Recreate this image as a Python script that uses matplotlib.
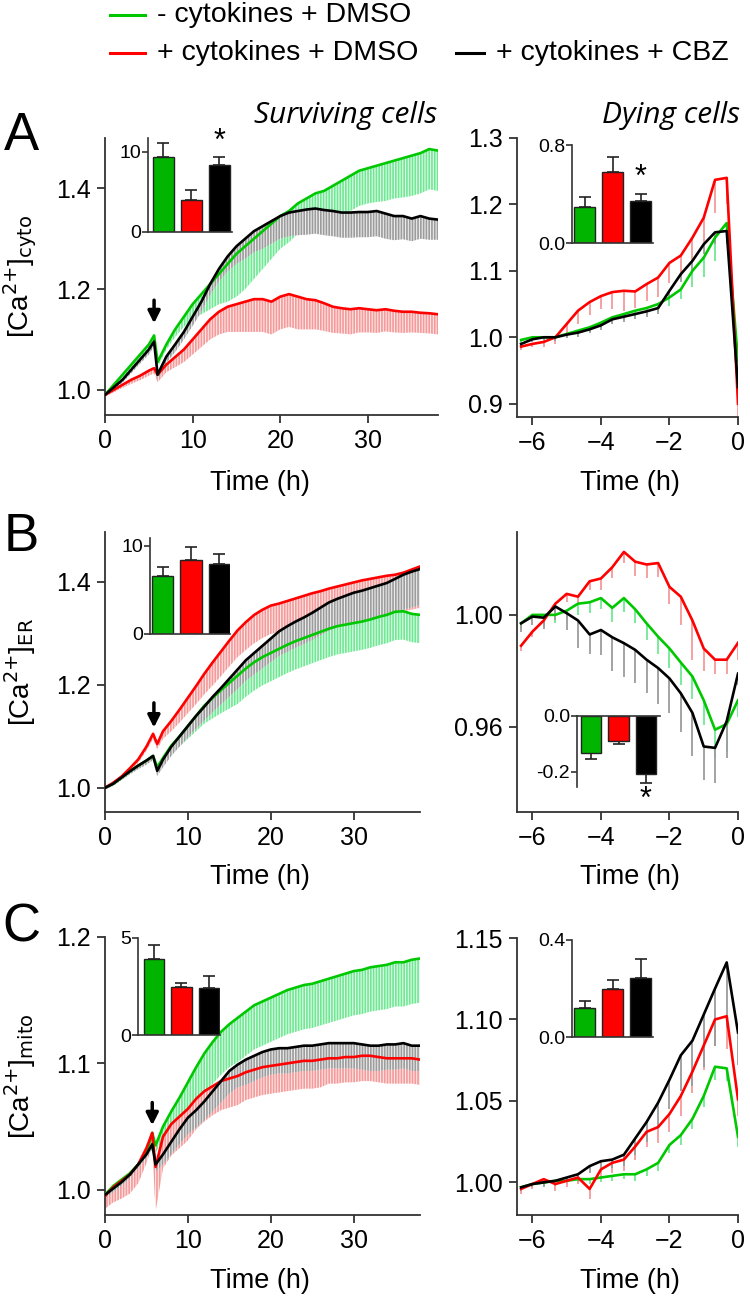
import numpy as np
import matplotlib
matplotlib.use('Agg')
import matplotlib.pyplot as plt
from matplotlib.lines import Line2D

plt.rcParams['font.family'] = ['Liberation Sans', 'DejaVu Sans']
plt.rcParams['mathtext.default'] = 'regular'
plt.rcParams['hatch.linewidth'] = 1.2

# ---------------- data ----------------
# left column: surviving cells, time in h
tA = [0, 1, 2, 3, 4, 5, 5.6, 6] + list(range(7, 39))
cytoSurvGreen = [0.99, 1.01, 1.03, 1.05, 1.07, 1.09, 1.108, 1.055,
                 1.09, 1.12, 1.145, 1.17, 1.19, 1.21, 1.23, 1.25, 1.27, 1.285,
                 1.30, 1.315, 1.33, 1.345, 1.355, 1.37, 1.38, 1.39, 1.395, 1.405,
                 1.415, 1.425, 1.435, 1.44, 1.445, 1.45, 1.455, 1.46, 1.465, 1.47,
                 1.478, 1.475]
cytoSurvGreenErr = [0.004, 0.005, 0.006, 0.007, 0.008, 0.009, 0.01, 0.01,
                    0.01, 0.015, 0.02, 0.03, 0.04, 0.05, 0.06, 0.075, 0.085, 0.085,
                    0.08, 0.075, 0.07, 0.065, 0.062, 0.06, 0.06, 0.062, 0.065, 0.065,
                    0.068, 0.07, 0.07, 0.07, 0.072, 0.075, 0.075, 0.078, 0.08, 0.08,
                    0.08, 0.08]
cytoSurvRed = [0.99, 1.0, 1.01, 1.02, 1.028, 1.038, 1.043, 1.03,
               1.05, 1.065, 1.08, 1.10, 1.12, 1.14, 1.155, 1.165, 1.17, 1.175,
               1.18, 1.18, 1.175, 1.185, 1.19, 1.185, 1.18, 1.178, 1.172, 1.165,
               1.162, 1.16, 1.162, 1.16, 1.158, 1.16, 1.157, 1.155, 1.155, 1.153,
               1.152, 1.15]
cytoSurvRedErr = [0.004, 0.005, 0.006, 0.008, 0.009, 0.01, 0.01, 0.015,
                  0.015, 0.02, 0.025, 0.03, 0.035, 0.04, 0.045, 0.05, 0.055, 0.06,
                  0.065, 0.065, 0.065, 0.065, 0.065, 0.065, 0.06, 0.058, 0.055, 0.052,
                  0.05, 0.05, 0.048, 0.046, 0.045, 0.044, 0.043, 0.042, 0.041, 0.04,
                  0.04, 0.04]
cytoSurvBlack = [0.99, 1.005, 1.02, 1.04, 1.06, 1.08, 1.096, 1.03,
                 1.066, 1.09, 1.115, 1.145, 1.175, 1.21, 1.24, 1.265, 1.285, 1.30,
                 1.315, 1.325, 1.335, 1.345, 1.352, 1.355, 1.358, 1.36, 1.357, 1.355,
                 1.352, 1.352, 1.353, 1.353, 1.355, 1.35, 1.345, 1.345, 1.34, 1.345,
                 1.34, 1.338]
cytoSurvBlackErr = [0.004, 0.005, 0.006, 0.007, 0.008, 0.01, 0.01, 0.012,
                    0.012, 0.015, 0.015, 0.018, 0.02, 0.022, 0.025, 0.03, 0.035, 0.04,
                    0.042, 0.045, 0.045, 0.045, 0.047, 0.048, 0.05, 0.05, 0.05, 0.05,
                    0.05, 0.05, 0.05, 0.05, 0.05, 0.05, 0.048, 0.046, 0.045, 0.045,
                    0.042, 0.04]

tB = [0, 1, 2, 3, 4, 5, 5.8, 6.3] + list(range(7, 39))
erSurvGreen = [1.0, 1.008, 1.02, 1.032, 1.043, 1.053, 1.062, 1.04,
               1.058, 1.082, 1.10, 1.12, 1.14, 1.16, 1.175, 1.19, 1.204, 1.218,
               1.232, 1.244, 1.254, 1.262, 1.27, 1.278, 1.285, 1.291, 1.297, 1.303,
               1.309, 1.314, 1.317, 1.32, 1.323, 1.327, 1.332, 1.336, 1.342, 1.343,
               1.338, 1.336]
erSurvGreenErr = [0.003, 0.004, 0.005, 0.005, 0.006, 0.006, 0.006, 0.008,
                  0.01, 0.015, 0.02, 0.025, 0.03, 0.035, 0.04, 0.045, 0.05, 0.055,
                  0.055, 0.055, 0.055, 0.055, 0.055, 0.055, 0.055, 0.055, 0.055, 0.055,
                  0.055, 0.055, 0.055, 0.055, 0.055, 0.055, 0.055, 0.055, 0.055, 0.055,
                  0.055, 0.055]
erSurvRed = [1.0, 1.01, 1.022, 1.038, 1.055, 1.08, 1.105, 1.085,
             1.11, 1.13, 1.152, 1.175, 1.198, 1.222, 1.244, 1.265, 1.286, 1.306,
             1.322, 1.336, 1.346, 1.354, 1.358, 1.363, 1.368, 1.373, 1.378, 1.382,
             1.387, 1.391, 1.395, 1.399, 1.403, 1.406, 1.409, 1.412, 1.414, 1.418,
             1.424, 1.43]
erSurvRedErr = [0.003, 0.004, 0.005, 0.006, 0.007, 0.008, 0.01, 0.01,
                0.015, 0.02, 0.025, 0.03, 0.035, 0.04, 0.045, 0.048, 0.05, 0.052,
                0.054, 0.055, 0.055, 0.055, 0.055, 0.056, 0.057, 0.058, 0.059, 0.06,
                0.061, 0.062, 0.063, 0.064, 0.065, 0.067, 0.069, 0.071, 0.073, 0.075,
                0.078, 0.08]
erSurvBlack = [1.0, 1.008, 1.02, 1.032, 1.043, 1.053, 1.062, 1.033,
               1.055, 1.08, 1.10, 1.12, 1.14, 1.158, 1.177, 1.194, 1.212, 1.23,
               1.248, 1.262, 1.276, 1.29, 1.304, 1.314, 1.323, 1.331, 1.34, 1.35,
               1.36, 1.367, 1.373, 1.379, 1.383, 1.388, 1.393, 1.398, 1.406, 1.414,
               1.42, 1.425]
erSurvBlackErr = [0.003, 0.004, 0.005, 0.006, 0.007, 0.008, 0.008, 0.01,
                  0.015, 0.018, 0.02, 0.022, 0.025, 0.027, 0.03, 0.032, 0.035, 0.038,
                  0.04, 0.042, 0.044, 0.046, 0.048, 0.05, 0.051, 0.052, 0.053, 0.054,
                  0.055, 0.056, 0.057, 0.058, 0.059, 0.06, 0.062, 0.064, 0.066, 0.068,
                  0.07, 0.07]

tC = [0, 1, 2, 3, 4, 5, 5.7, 6.1] + list(range(7, 39))
mitoSurvGreen = [0.996, 1.003, 1.008, 1.013, 1.02, 1.029, 1.045, 1.035,
                 1.05, 1.062, 1.073, 1.085, 1.097, 1.108, 1.117, 1.125, 1.131, 1.136,
                 1.141, 1.146, 1.149, 1.152, 1.155, 1.158, 1.16, 1.162, 1.163, 1.165,
                 1.167, 1.169, 1.171, 1.173, 1.174, 1.176, 1.177, 1.178, 1.18, 1.18,
                 1.182, 1.183]
mitoSurvGreenErr = [0.003, 0.003, 0.004, 0.004, 0.005, 0.005, 0.006, 0.006,
                    0.01, 0.015, 0.02, 0.025, 0.03, 0.032, 0.033, 0.034, 0.034, 0.035,
                    0.035, 0.035, 0.035, 0.035, 0.035, 0.035, 0.035, 0.035, 0.035, 0.035,
                    0.035, 0.035, 0.035, 0.035, 0.035, 0.035, 0.035, 0.035, 0.035, 0.035,
                    0.035, 0.035]
mitoSurvRed = [0.995, 1.002, 1.007, 1.012, 1.02, 1.033, 1.045, 1.018,
               1.042, 1.052, 1.058, 1.064, 1.072, 1.078, 1.082, 1.086, 1.088, 1.09,
               1.093, 1.095, 1.097, 1.098, 1.099, 1.1, 1.101, 1.102, 1.102, 1.103,
               1.104, 1.104, 1.105, 1.105, 1.106, 1.106, 1.105, 1.104, 1.104, 1.104,
               1.104, 1.103]
mitoSurvRedErr = [0.01, 0.012, 0.014, 0.015, 0.015, 0.012, 0.01, 0.035,
                  0.025, 0.025, 0.025, 0.025, 0.024, 0.024, 0.023, 0.023, 0.023, 0.023,
                  0.022, 0.022, 0.022, 0.022, 0.022, 0.022, 0.022, 0.022, 0.022, 0.022,
                  0.02, 0.02, 0.02, 0.02, 0.02, 0.02, 0.02, 0.02, 0.02, 0.02,
                  0.02, 0.02]
mitoSurvBlack = [0.996, 1.001, 1.006, 1.012, 1.02, 1.028, 1.036, 1.02,
                 1.028, 1.038, 1.048, 1.057, 1.063, 1.07, 1.078, 1.086, 1.094, 1.099,
                 1.103, 1.106, 1.109, 1.111, 1.112, 1.112, 1.113, 1.114, 1.114, 1.115,
                 1.116, 1.116, 1.116, 1.116, 1.115, 1.114, 1.114, 1.115, 1.115, 1.116,
                 1.114, 1.114]
mitoSurvBlackErr = [0.003, 0.003, 0.003, 0.003, 0.003, 0.003, 0.004, 0.006,
                    0.008, 0.01, 0.012, 0.013, 0.014, 0.015, 0.016, 0.017, 0.018, 0.018,
                    0.02, 0.02, 0.02, 0.02, 0.02, 0.02, 0.02, 0.02, 0.02, 0.02,
                    0.02, 0.02, 0.02, 0.02, 0.02, 0.02, 0.02, 0.02, 0.02, 0.02,
                    0.02, 0.02]

# right column: dying cells, time before death (h)
tDie = [-6.33, -6.0, -5.67, -5.33, -5.0, -4.67, -4.33, -4.0, -3.67, -3.33,
        -3.0, -2.67, -2.33, -2.0, -1.67, -1.33, -1.0, -0.67, -0.33, 0.0]
cytoDieGreen = [0.996, 1.0, 1.0, 1.0, 1.005, 1.01, 1.015, 1.022, 1.03, 1.035,
                1.04, 1.044, 1.05, 1.06, 1.072, 1.10, 1.12, 1.15, 1.172, 0.965]
cytoDieGreenErr = [0.004, 0.004, 0.005, 0.005, 0.006, 0.006, 0.007, 0.008, 0.008, 0.009,
                   0.01, 0.01, 0.012, 0.013, 0.015, 0.025, 0.03, 0.035, 0.03, 0.02]
cytoDieRed = [0.986, 0.99, 0.993, 1.0, 1.02, 1.04, 1.053, 1.062, 1.068, 1.07,
              1.069, 1.08, 1.09, 1.112, 1.123, 1.15, 1.18, 1.237, 1.24, 0.90]
cytoDieRedErr = [0.005, 0.005, 0.008, 0.01, 0.015, 0.02, 0.02, 0.02, 0.025, 0.03,
                 0.025, 0.025, 0.03, 0.03, 0.03, 0.035, 0.04, 0.05, 0.04, 0.02]
cytoDieBlack = [0.99, 0.997, 1.0, 1.0, 1.004, 1.007, 1.012, 1.018, 1.027, 1.031,
                1.035, 1.039, 1.044, 1.07, 1.095, 1.115, 1.14, 1.158, 1.16, 0.925]
cytoDieBlackErr = [0.004, 0.004, 0.004, 0.005, 0.005, 0.006, 0.006, 0.007, 0.007, 0.008,
                   0.008, 0.008, 0.009, 0.01, 0.012, 0.015, 0.015, 0.018, 0.02, 0.015]

erDieGreen = [0.997, 1.0, 1.0, 1.0, 1.0015, 1.004, 1.0045, 1.006, 1.0025, 1.006,
              1.002, 0.997, 0.9922, 0.988, 0.983, 0.978, 0.9695, 0.959, 0.961, 0.9695]
erDieGreenErr = [0.002, 0.002, 0.003, 0.003, 0.003, 0.004, 0.004, 0.004, 0.005, 0.005,
                 0.005, 0.006, 0.006, 0.007, 0.008, 0.008, 0.009, 0.01, 0.01, 0.006]
erDieRed = [0.989, 0.994, 0.998, 1.004, 1.0075, 1.0065, 1.012, 1.013, 1.017, 1.0225,
            1.019, 1.018, 1.0185, 1.01, 1.0065, 0.998, 0.988, 0.984, 0.984, 0.990]
erDieRedErr = [0.002, 0.002, 0.002, 0.003, 0.003, 0.003, 0.003, 0.004, 0.004, 0.004,
               0.005, 0.005, 0.005, 0.006, 0.01, 0.014, 0.008, 0.005, 0.005, 0.006]
erDieBlack = [0.997, 0.9994, 0.999, 1.003, 1.0006, 0.998, 0.993, 0.9946, 0.992, 0.9899,
              0.9875, 0.984, 0.981, 0.9773, 0.972, 0.965, 0.953, 0.9525, 0.962, 0.979]
erDieBlackErr = [0.003, 0.003, 0.004, 0.005, 0.006, 0.01, 0.007, 0.009, 0.012, 0.012,
                 0.012, 0.012, 0.013, 0.0125, 0.014, 0.0155, 0.012, 0.0125, 0.013, 0.004]

mitoDieGreen = [0.997, 0.999, 1.0, 1.001, 1.001, 1.002, 1.002, 1.003, 1.004, 1.005,
                1.005, 1.008, 1.012, 1.023, 1.029, 1.039, 1.053, 1.071, 1.07, 1.028]
mitoDieGreenErr = [0.002, 0.002, 0.002, 0.002, 0.002, 0.002, 0.003, 0.003, 0.003, 0.003,
                   0.004, 0.004, 0.005, 0.005, 0.006, 0.006, 0.007, 0.008, 0.008, 0.006]
mitoDieRed = [0.996, 0.999, 1.002, 0.999, 1.001, 1.003, 0.996, 1.008, 1.012, 1.014,
              1.022, 1.031, 1.034, 1.042, 1.053, 1.068, 1.084, 1.1, 1.102, 1.051]
mitoDieRedErr = [0.003, 0.003, 0.003, 0.004, 0.004, 0.004, 0.006, 0.005, 0.006, 0.007,
                 0.008, 0.009, 0.01, 0.011, 0.012, 0.013, 0.015, 0.016, 0.02, 0.01]
mitoDieBlack = [0.997, 0.999, 1.0, 1.001, 1.003, 1.005, 1.01, 1.013, 1.014, 1.017,
                1.027, 1.037, 1.049, 1.063, 1.078, 1.087, 1.103, 1.119, 1.135, 1.092]
mitoDieBlackErr = [0.002, 0.002, 0.003, 0.003, 0.003, 0.004, 0.004, 0.004, 0.005, 0.007,
                   0.01, 0.012, 0.015, 0.018, 0.022, 0.028, 0.032, 0.035, 0.04, 0.02]

# inset bar charts: order green, red, black
cytoSurvBars = [9.4, 4.0, 8.4]
cytoSurvBarsErr = [1.7, 1.2, 1.0]
cytoDieBars = [0.295, 0.582, 0.342]
cytoDieBarsErr = [0.082, 0.123, 0.062]
erSurvBars = [6.6, 8.4, 7.95]
erSurvBarsErr = [1.05, 1.45, 1.1]
erDieBars = [-0.132, -0.089, -0.207]
erDieBarsErr = [0.022, 0.011, 0.032]
mitoSurvBars = [3.91, 2.47, 2.41]
mitoSurvBarsErr = [0.71, 0.2, 0.61]
mitoDieBars = [0.119, 0.199, 0.245]
mitoDieBarsErr = [0.028, 0.037, 0.077]

legendLabels = ['- cytokines + DMSO', '+ cytokines + DMSO', '+ cytokines + CBZ']

# ---------------- style ----------------
W, H = 750, 1300
lineCols = ['#00c800', '#ff0000', '#000000']
errCols = ['#6fe894', '#f49a9a', '#9c9c9c']
errFace = ['#e4fbea', '#fde6e6', '#ececec']
barCols = ['#00b400', '#ff0000', '#000000']
axCol = '#333333'

fig = plt.figure(figsize=(W/100, H/100), dpi=100)


def addAx(x0, y0, x1, y1):
    # pixel box (left, top, right, bottom) -> figure axes
    return fig.add_axes([x0/W, 1 - y1/H, (x1 - x0)/W, (y1 - y0)/H])


def styleMain(ax):
    for s in ['top', 'right']:
        ax.spines[s].set_visible(False)
    for s in ['left', 'bottom']:
        ax.spines[s].set_color(axCol)
        ax.spines[s].set_linewidth(1.3)
    ax.tick_params(labelsize=18, length=6, width=1.3, pad=4, color=axCol)
    ax.patch.set_alpha(0)


def survPanel(ax, t, series, errs):
    t = np.array(t)
    # dense one-sided SEM bars look like a striped band
    for m, e, c, f in zip(series, errs, errCols, errFace):
        m = np.array(m)
        e = np.array(e)
        ax.fill_between(t, m - e, m, facecolor=f, edgecolor=c, hatch='||||||',
                        lw=0, zorder=1)
    for m, c in zip(series, lineCols):
        ax.plot(t, m, color=c, lw=1.9, zorder=3)
    ax.set_xlim(0, 38)
    ax.set_xticks([0, 10, 20, 30])
    styleMain(ax)


def diePanel(ax, t, series, errs):
    t = np.array(t)
    for m, e, c in zip(series, errs, errCols):
        m = np.array(m)
        e = np.array(e)
        ax.vlines(t, m - e, m, color=c, lw=1.3, zorder=1)
    for m, c in zip(series, lineCols):
        ax.plot(t, m, color=c, lw=1.9, zorder=3)
    ax.set_xlim(-6.45, 0)
    ax.set_xticks([-6, -4, -2, 0])
    styleMain(ax)


def inset(box, vals, errs, xlim, ylim, yticks, ytl, star=None, down=False):
    ax = addAx(*box)
    x = np.arange(3)
    ax.bar(x, vals, width=0.75, color=barCols, edgecolor='#222222', lw=1.0, zorder=2)
    z = np.zeros(3)
    yerr = [errs, z] if down else [z, errs]
    ax.errorbar(x, vals, yerr=yerr, fmt='none', ecolor='#222222', elinewidth=1.2,
                capsize=4, capthick=1.2, zorder=1)
    ax.set_xlim(*xlim)
    ax.set_ylim(*ylim)
    ax.set_xticks([])
    ax.set_yticks(yticks)
    ax.set_yticklabels(ytl)
    ax.spines['right'].set_visible(False)
    ax.spines['top' if not down else 'bottom'].set_visible(False)
    for s in ['left', 'bottom', 'top']:
        ax.spines[s].set_color(axCol)
        ax.spines[s].set_linewidth(1.2)
    ax.tick_params(labelsize=14, length=4, width=1.2, pad=1, color=axCol)
    ax.patch.set_alpha(0)
    if star is not None:
        ax.text(2, star, '*', ha='center', va='center', fontsize=22, clip_on=False)
    return ax


def arrow(ax, x, ytop, ytip):
    ax.annotate('', xy=(x, ytip), xytext=(x, ytop),
                arrowprops=dict(arrowstyle='-|>', color='black', lw=2.5,
                                mutation_scale=18, shrinkA=0, shrinkB=0), zorder=5)


def caLabel(sub):
    return '[Ca$^{\\text{2+}}$]$_{\\text{%s}}$' % sub


# ---------------- panel A ----------------
ax = addAx(105, 138, 438, 415)
survPanel(ax, tA, [cytoSurvGreen, cytoSurvRed, cytoSurvBlack],
          [cytoSurvGreenErr, cytoSurvRedErr, cytoSurvBlackErr])
ax.set_ylim(0.95, 1.5)
ax.set_yticks([1.0, 1.2, 1.4])
ax.yaxis.set_major_formatter(plt.FormatStrFormatter('%.1f'))
arrow(ax, 5.6, 1.178, 1.132)

ax = addAx(517, 138, 738, 417)
diePanel(ax, tDie, [cytoDieGreen, cytoDieRed, cytoDieBlack],
         [cytoDieGreenErr, cytoDieRedErr, cytoDieBlackErr])
ax.set_ylim(0.88, 1.3)
ax.set_yticks([0.9, 1.0, 1.1, 1.2, 1.3])
ax.yaxis.set_major_formatter(plt.FormatStrFormatter('%.1f'))

inset((148, 138, 232, 232), cytoSurvBars, cytoSurvBarsErr, (-0.54, 2.46), (0, 11.75),
      [0, 10], ['0', '10'], star=11.3)
inset((572, 145, 653, 243), cytoDieBars, cytoDieBarsErr, (-0.46, 2.43), (0, 0.8),
      [0, 0.8], ['0.0', '0.8'], star=0.53)

# ---------------- panel B ----------------
ax = addAx(105, 532, 420, 812)
survPanel(ax, tB, [erSurvGreen, erSurvRed, erSurvBlack],
          [erSurvGreenErr, erSurvRedErr, erSurvBlackErr])
ax.set_ylim(0.953, 1.497)
ax.set_yticks([1.0, 1.2, 1.4])
ax.yaxis.set_major_formatter(plt.FormatStrFormatter('%.1f'))
arrow(ax, 5.9, 1.165, 1.117)

ax = addAx(517, 532, 738, 812)
diePanel(ax, tDie, [erDieGreen, erDieRed, erDieBlack],
         [erDieGreenErr, erDieRedErr, erDieBlackErr])
ax.set_ylim(0.9296, 1.0296)
ax.set_yticks([0.96, 1.0])
ax.yaxis.set_major_formatter(plt.FormatStrFormatter('%.2f'))

inset((150, 538, 230, 634), erSurvBars, erSurvBarsErr, (-0.46, 2.39), (0, 10.9),
      [0, 10], ['0', '10'])
inset((577, 716, 660, 787), erDieBars, erDieBarsErr, (-0.51, 2.51), (-0.254, 0),
      [-0.2, 0], ['-0.2', '0.0'], star=-0.30, down=True)

# ---------------- panel C ----------------
ax = addAx(105, 937, 420, 1215)
survPanel(ax, tC, [mitoSurvGreen, mitoSurvRed, mitoSurvBlack],
          [mitoSurvGreenErr, mitoSurvRedErr, mitoSurvBlackErr])
ax.set_ylim(0.98, 1.2)
ax.set_yticks([1.0, 1.1, 1.2])
ax.yaxis.set_major_formatter(plt.FormatStrFormatter('%.1f'))
arrow(ax, 5.7, 1.069, 1.051)

ax = addAx(517, 938, 738, 1215)
diePanel(ax, tDie, [mitoDieGreen, mitoDieRed, mitoDieBlack],
         [mitoDieGreenErr, mitoDieRedErr, mitoDieBlackErr])
ax.set_ylim(0.98, 1.15)
ax.set_yticks([1.0, 1.05, 1.1, 1.15])
ax.yaxis.set_major_formatter(plt.FormatStrFormatter('%.2f'))

inset((138, 938, 220, 1035), mitoSurvBars, mitoSurvBarsErr, (-0.58, 2.4), (0, 5),
      [0, 5], ['0', '5'])
inset((572, 940, 653, 1037), mitoDieBars, mitoDieBarsErr, (-0.45, 2.43), (0, 0.4),
      [0, 0.4], ['0.0', '0.4'])

# ---------------- figure texts ----------------
for yc, lab in [(276, 'cyto'), (672, 'ER'), (1076, 'mito')]:
    fig.text(20/W, 1 - yc/H, caLabel(lab), rotation=90,
             ha='center', va='center', fontsize=20)
for yc in [483, 877, 1281]:
    fig.text(260/W, 1 - yc/H, 'Time (h)', ha='center', va='center', fontsize=19.5)
    fig.text(630/W, 1 - yc/H, 'Time (h)', ha='center', va='center', fontsize=19.5)
for yc, letter in [(136, 'A'), (537, 'B'), (928, 'C')]:
    fig.text(21/W, 1 - yc/H, letter, ha='center', va='center', fontsize=38)

fig.text(437/W, 1 - 123/H, 'Surviving cells', ha='right', va='baseline',
         fontsize=21.5, style='italic', family=['Open Sans', 'DejaVu Sans'])
fig.text(740/W, 1 - 123/H, 'Dying cells', ha='right', va='baseline',
         fontsize=21.5, style='italic', family=['Open Sans', 'DejaVu Sans'])

# legend drawn by hand to match the layout
legPos = [(110, 145, 15, 157), (110, 145, 53, 157), (456, 484, 53, 496)]
for (x0, x1, y, xt), c, lab in zip(legPos, lineCols, legendLabels):
    fig.add_artist(Line2D([x0/W, x1/W], [1 - y/H, 1 - y/H], color=c, lw=2.2))
    fig.text(xt/W, 1 - y/H, lab, ha='left', va='center', fontsize=20.5)

fig.savefig('out.png', dpi=100)
